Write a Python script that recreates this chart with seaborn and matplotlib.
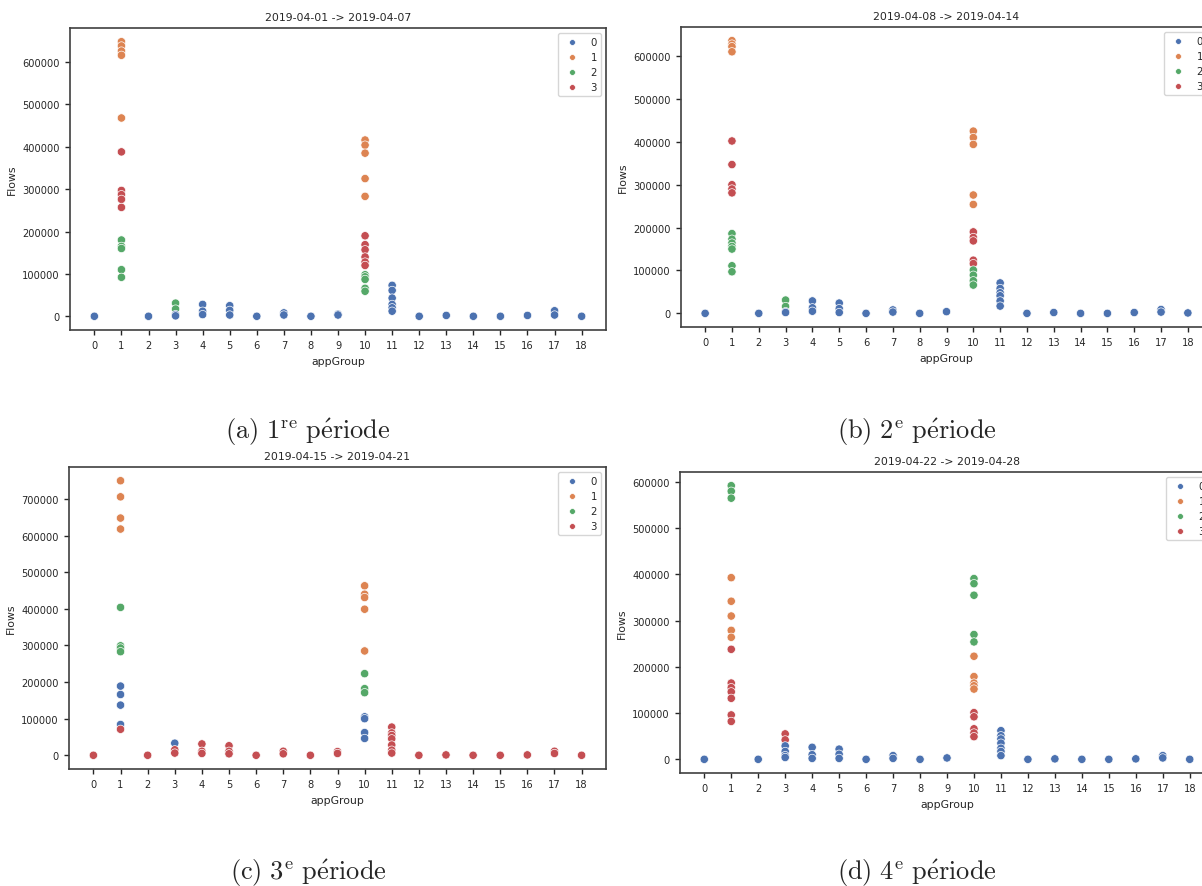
import matplotlib
matplotlib.use("Agg")
import matplotlib.pyplot as plt
import pandas as pd
import seaborn as sns

sns.set_theme(style="ticks", palette="deep", rc={
    "font.size": 7.1,
    "axes.titlesize": 7.8,
    "axes.labelsize": 7.8,
    "xtick.labelsize": 7.1,
    "ytick.labelsize": 7.1,
    "legend.fontsize": 7.3,
    "axes.linewidth": 1.2,
    "axes.edgecolor": ".25",
    "xtick.major.size": 3.8,
    "ytick.major.size": 3.8,
    "xtick.major.width": 1.0,
    "ytick.major.width": 1.0,
    "mathtext.fontset": "cm",
})

CLUSTERS = ["0", "1", "2", "3"]
APP_GROUPS = list(range(19))

# ── period 1: 2019-04-01 -> 2019-04-07 ────────────────────────────────────────
p1_group = [0,
            1, 1, 1, 1, 1, 1, 1, 1, 1, 1, 1, 1, 1, 1, 1,
            2, 3, 3, 3, 3, 4, 4, 4, 5, 5, 5, 6, 7, 7, 8, 9, 9,
            10, 10, 10, 10, 10, 10, 10, 10, 10, 10, 10, 10, 10, 10, 10, 10,
            11, 11, 11, 11, 11, 11,
            12, 13, 14, 15, 16, 17, 17, 18]
p1_flows = [0,
            648000, 638000, 626000, 616000, 468000, 388000, 297000, 287000, 276000, 257000,
            180000, 165000, 160000, 110000, 92000,
            0, 31000, 17000, 4000, 1000, 28000, 12000, 4000, 25000, 14000, 3000, 0, 8000, 3000, 0, 5000, 3000,
            416000, 404000, 385000, 325000, 283000, 190000, 169000, 157000, 140000, 128000, 120000,
            98000, 93000, 87000, 66000, 59000,
            73000, 61000, 43000, 28000, 20000, 12000,
            0, 2000, 0, 0, 2000, 13000, 3000, 0]
p1_cluster = ["0",
              "1", "1", "1", "1", "1", "3", "3", "3", "3", "3", "2", "2", "2", "2", "2",
              "0", "2", "2", "0", "0", "0", "0", "0", "0", "0", "0", "0", "0", "0", "0", "0", "0",
              "1", "1", "1", "1", "1", "3", "3", "3", "3", "3", "3", "2", "2", "2", "2", "2",
              "0", "0", "0", "0", "0", "0",
              "0", "0", "0", "0", "0", "0", "0", "0"]

# ── period 2: 2019-04-08 -> 2019-04-14 ────────────────────────────────────────
p2_group = [0,
            1, 1, 1, 1, 1, 1, 1, 1, 1, 1, 1, 1, 1, 1, 1, 1,
            2, 3, 3, 3, 3, 4, 4, 4, 5, 5, 5, 6, 7, 7, 8, 9,
            10, 10, 10, 10, 10, 10, 10, 10, 10, 10, 10, 10, 10, 10,
            11, 11, 11, 11, 11, 11,
            12, 13, 14, 15, 16, 17, 17, 18]
p2_flows = [0,
            636000, 628000, 622000, 610000, 402000, 347000, 300000, 290000, 281000,
            186000, 173000, 164000, 156000, 150000, 111000, 97000,
            0, 31000, 16000, 4000, 2000, 29000, 13000, 5000, 24000, 11000, 2000, 0, 8000, 3000, 0, 4000,
            425000, 410000, 394000, 276000, 254000, 190000, 177000, 169000, 124000, 116000,
            101000, 89000, 76000, 66000,
            71000, 58000, 48000, 41000, 29000, 17000,
            0, 2000, 0, 0, 2000, 9000, 3000, 1000]
p2_cluster = ["0",
              "1", "1", "1", "1", "3", "3", "3", "3", "3", "2", "2", "2", "2", "2", "2", "2",
              "0", "2", "2", "0", "0", "0", "0", "0", "0", "0", "0", "0", "0", "0", "0", "0",
              "1", "1", "1", "1", "1", "3", "3", "3", "3", "3", "2", "2", "2", "2",
              "0", "0", "0", "0", "0", "0",
              "0", "0", "0", "0", "0", "0", "0", "0"]

# ── period 3: 2019-04-15 -> 2019-04-21 ────────────────────────────────────────
p3_group = [0,
            1, 1, 1, 1, 1, 1, 1, 1, 1, 1, 1, 1, 1,
            2, 3, 3, 3, 4, 4, 4, 5, 5, 5, 6, 7, 7, 8, 9, 9,
            10, 10, 10, 10, 10, 10, 10, 10, 10, 10, 10, 10,
            11, 11, 11, 11, 11, 11, 11,
            12, 13, 14, 15, 16, 17, 17, 18]
p3_flows = [0,
            750000, 706000, 648000, 618000, 404000, 299000, 293000, 283000,
            189000, 166000, 137000, 84000, 71000,
            0, 33000, 15000, 6000, 31000, 11000, 5000, 26000, 11000, 4000, 0, 11000, 4000, 0, 10000, 5000,
            463000, 440000, 431000, 399000, 285000, 223000, 182000, 171000,
            105000, 100000, 62000, 46000,
            77000, 61000, 54000, 45000, 28000, 14000, 6000,
            0, 1000, 0, 0, 1000, 11000, 5000, 0]
p3_cluster = ["3",
              "1", "1", "1", "1", "2", "2", "2", "2", "0", "0", "0", "0", "3",
              "3", "0", "3", "3", "3", "3", "3", "3", "3", "3", "3", "3", "3", "3", "3", "3",
              "1", "1", "1", "1", "1", "2", "2", "2", "0", "0", "0", "0",
              "3", "3", "3", "3", "3", "3", "3",
              "3", "3", "3", "3", "3", "3", "3", "3"]

# ── period 4: 2019-04-22 -> 2019-04-28 ────────────────────────────────────────
p4_group = [0,
            1, 1, 1, 1, 1, 1, 1, 1, 1, 1, 1, 1, 1, 1, 1,
            2, 3, 3, 3, 3, 3, 3, 4, 4, 4, 5, 5, 5, 6, 7, 7, 8, 9,
            10, 10, 10, 10, 10, 10, 10, 10, 10, 10, 10, 10, 10, 10, 10,
            11, 11, 11, 11, 11, 11, 11,
            12, 13, 14, 15, 16, 17, 17, 18]
p4_flows = [0,
            592000, 580000, 565000, 393000, 342000, 310000, 279000, 264000,
            238000, 165000, 155000, 146000, 132000, 96000, 82000,
            0, 55000, 42000, 29000, 17000, 8000, 4000, 26000, 10000, 2000, 22000, 11000, 2000, 0, 8000, 2000, 0, 3000,
            391000, 380000, 355000, 270000, 254000, 223000, 179000, 165000, 159000, 152000,
            101000, 92000, 66000, 57000, 49000,
            62000, 51000, 44000, 35000, 24000, 17000, 8000,
            0, 1000, 0, 0, 1000, 8000, 3000, 0]
p4_cluster = ["0",
              "2", "2", "2", "1", "1", "1", "1", "1", "3", "3", "3", "3", "3", "3", "3",
              "0", "3", "3", "0", "0", "0", "0", "0", "0", "0", "0", "0", "0", "0", "0", "0", "0", "0",
              "2", "2", "2", "2", "2", "1", "1", "1", "1", "1", "3", "3", "3", "3", "3",
              "0", "0", "0", "0", "0", "0", "0",
              "0", "0", "0", "0", "0", "0", "0", "0"]

titles = ["2019-04-01 -> 2019-04-07", "2019-04-08 -> 2019-04-14",
          "2019-04-15 -> 2019-04-21", "2019-04-22 -> 2019-04-28"]
captions = [r"$\mathrm{(a)\ 1^{re}\ p\acute{e}riode}$",
            r"$\mathrm{(b)\ 2^{e}\ p\acute{e}riode}$",
            r"$\mathrm{(c)\ 3^{e}\ p\acute{e}riode}$",
            r"$\mathrm{(d)\ 4^{e}\ p\acute{e}riode}$"]

periods = [(p1_group, p1_flows, p1_cluster), (p2_group, p2_flows, p2_cluster),
           (p3_group, p3_flows, p3_cluster), (p4_group, p4_flows, p4_cluster)]

W, H = 1202, 887
# axes boxes in pixels: left, top, width, height (right panels run past the page edge)
boxes = [(70, 29, 536, 302), (681, 28, 531, 300),
         (69, 468, 537, 302), (680, 473, 534, 301)]
caption_xy = [(308, 432), (917, 432), (308, 873), (917, 873)]

fig = plt.figure(figsize=(W / 100, H / 100), dpi=100)

for (grp, flows, clus), (l, t, w, h), title in zip(periods, boxes, titles):
    df = pd.DataFrame({"appGroup": grp, "Flows": flows, "cluster": clus})
    ax = fig.add_axes([l / W, 1 - (t + h) / H, w / W, h / H])
    sns.scatterplot(data=df, x="appGroup", y="Flows", hue="cluster",
                    hue_order=CLUSTERS, s=36, ax=ax)
    ax.set_xticks(APP_GROUPS)
    ax.ticklabel_format(style="plain", axis="y")
    ax.set_title(title)
    sns.move_legend(ax, "upper right", title=None, markerscale=0.7)

for (cx, cy), cap in zip(caption_xy, captions):
    fig.text(cx / W, 1 - cy / H, cap, ha="center", va="center", fontsize=19)

fig.savefig("out.png", dpi=100)
